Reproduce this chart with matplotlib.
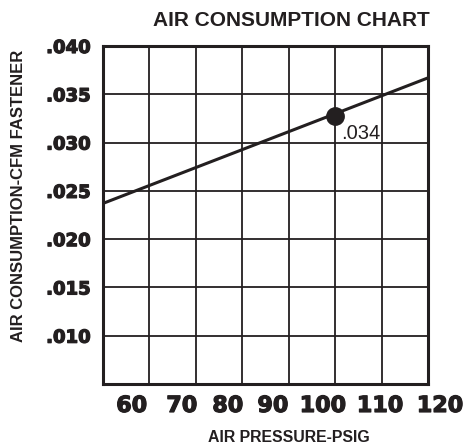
import matplotlib
matplotlib.use("Agg")
import matplotlib.pyplot as plt
import matplotlib.patheffects as pe

# ---- data ----
pressure_line = [50, 120]            # psig, line end points
consumption_line = [0.0237, 0.0367]  # cfm per fastener
point_pressure = [100]
point_consumption = [0.0327]
point_label = ".034"

x_grid = [50, 60, 70, 80, 90, 100, 110, 120]
x_tick_labels = ["60", "70", "80", "90", "100", "110", "120"]
y_ticks = [0.010, 0.015, 0.020, 0.025, 0.030, 0.035, 0.040]
y_tick_labels = [".010", ".015", ".020", ".025", ".030", ".035", ".040"]
y_grid = [0.005, 0.010, 0.015, 0.020, 0.025, 0.030, 0.035, 0.040]

# layout: where the x labels sit (the reference places them loosely)
x_label_pos = [56.2, 67.0, 76.9, 86.6, 97.4, 109.7, 122.6]

ink = "#231f20"
heavy = [pe.withStroke(linewidth=0.9, foreground=ink)]

fig = plt.figure(figsize=(4.64, 4.45), dpi=100)
ax = fig.add_axes([103/464, 1 - 384/445, 325/464, 338/445])
ax.set_xlim(50, 120)
ax.set_ylim(0.005, 0.040)

for xv in x_grid:
    ax.axvline(xv, color=ink, lw=1.3, zorder=1)
for yv in y_grid:
    ax.axhline(yv, color=ink, lw=1.3, zorder=1)

ax.plot(pressure_line, consumption_line, color=ink, lw=2.2, zorder=3, solid_capstyle="butt")
ax.plot(point_pressure, point_consumption, "o", color=ink, ms=12.5, zorder=4)
ax.text(point_pressure[0] + 1.2, point_consumption[0] - 0.0018, point_label,
        fontsize=14.5, family="Liberation Sans", color=ink, va="center", ha="left")

for s in ax.spines.values():
    s.set_linewidth(2.2)
    s.set_color(ink)

ax.set_xticks([])
ax.set_yticks(y_ticks)
ax.set_yticklabels(y_tick_labels, fontsize=13, fontweight="bold", family="DejaVu Sans", color=ink)
for t in ax.get_yticklabels():
    t.set_path_effects(heavy)
ax.tick_params(axis="y", length=0, pad=9)

for xp, lab in zip(x_label_pos, x_tick_labels):
    ax.text(xp, -0.065, lab, transform=ax.get_xaxis_transform(), ha="center", va="center",
            fontsize=16, fontweight="bold", family="DejaVu Sans", color=ink, clip_on=False,
            path_effects=heavy)

fig.text(291/464, 1 - 21/445, "AIR CONSUMPTION CHART", ha="center", va="center",
         fontsize=15, fontweight="bold", family="Liberation Sans", color=ink)
fig.text(289/464, 1 - 438/445, "AIR PRESSURE-PSIG", ha="center", va="center",
         fontsize=11.4, fontweight="bold", family="Liberation Sans", color=ink)
fig.text(18.5/464, 1 - 196/445, "AIR CONSUMPTION-CFM FASTENER", ha="center", va="center",
         rotation=90, fontsize=12, fontweight="bold", family="Liberation Sans", color=ink)

fig.savefig("out.png", dpi=100)
